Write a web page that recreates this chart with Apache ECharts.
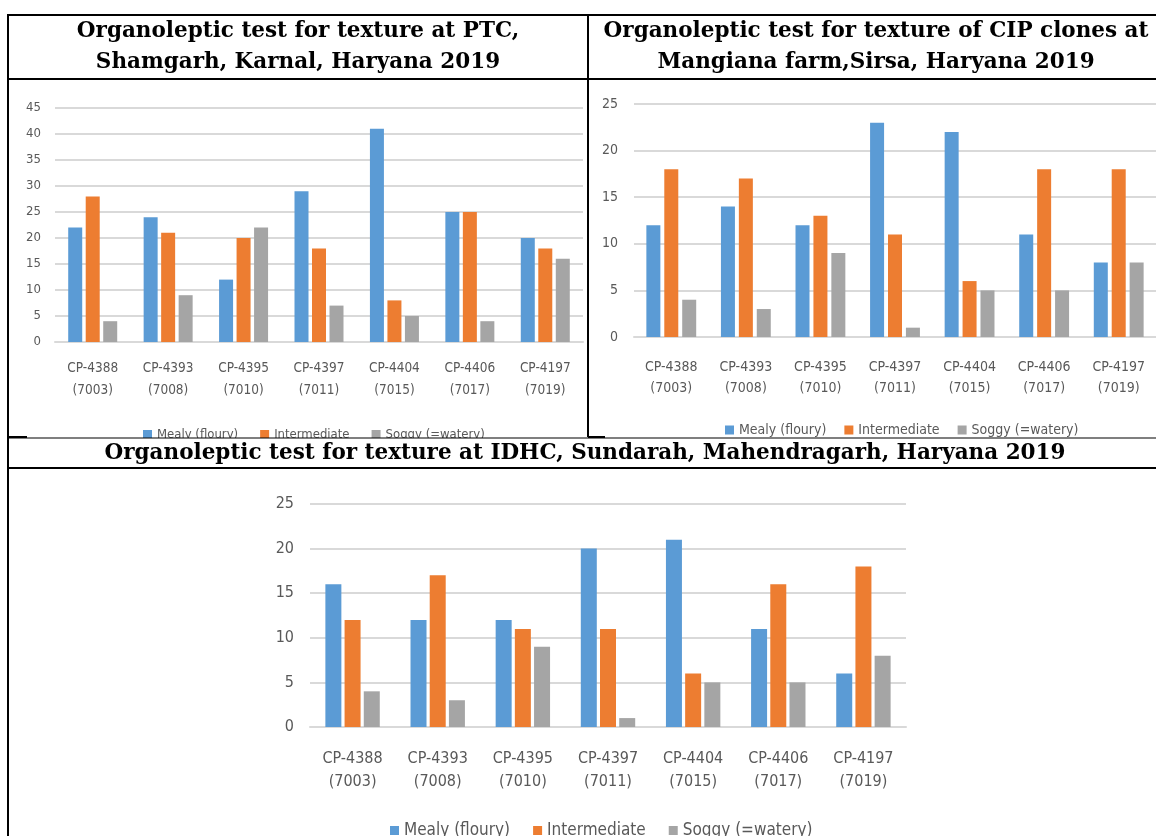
<!DOCTYPE html>
<html>
<head>
<meta charset="utf-8">
<script src="https://cdn.jsdelivr.net/npm/echarts@6/dist/echarts.min.js"></script>
<style>
html,body{margin:0;padding:0;background:#fff;}
#chart{width:1156px;height:836px;}
</style>
</head>
<body>
<div id="chart"></div>
<script>
// ---------- data ----------
const clones = ['CP-4388','CP-4393','CP-4395','CP-4397','CP-4404','CP-4406','CP-4197'];
const codes  = ['7003','7008','7010','7011','7015','7017','7019'];
const seriesNames = ['Mealy (floury)','Intermediate','Soggy (=watery)'];

// PTC, Shamgarh, Karnal
const ptcMealy        = [22,24,12,29,41,25,20];
const ptcIntermediate = [28,21,20,18,8,25,18];
const ptcSoggy        = [4,9,22,7,5,4,16];

// Mangiana farm, Sirsa
const sirsaMealy        = [12,14,12,23,22,11,8];
const sirsaIntermediate = [18,17,13,11,6,18,18];
const sirsaSoggy        = [4,3,9,1,5,5,8];

// IDHC, Sundarah, Mahendragarh
const idhcMealy        = [16,12,12,20,21,11,6];
const idhcIntermediate = [12,17,11,11,6,16,18];
const idhcSoggy        = [4,3,9,1,5,5,8];

const titlePTC   = ['Organoleptic test for texture at PTC,','Shamgarh, Karnal, Haryana 2019'];
const titleSirsa = ['Organoleptic test for texture of CIP clones at','Mangiana farm,Sirsa, Haryana 2019'];
const titleIDHC  = ['Organoleptic test for texture at IDHC, Sundarah, Mahendragarh, Haryana 2019'];

// ---------- styling ----------
const colors = ['#5B9BD5','#ED7D31','#A5A5A5'];
const labelFont = "'Liberation Sans Narrow','DejaVu Sans Condensed','Open Sans',sans-serif";
const titleFont = "'DejaVu Serif','Liberation Serif',serif";
const categories = clones.map((c,i)=>c+'\n('+codes[i]+')');

const chart = echarts.init(document.getElementById('chart'), null, {renderer:'canvas'});

function xAxis(gi, fs, margin, lh){
  return {type:'category', gridIndex:gi, data:categories,
    axisTick:{show:false},
    axisLine:{show:true, lineStyle:{color:'#d9d9d9', width:2}},
    axisLabel:{color:'#595959', fontSize:fs, fontFamily:labelFont, margin:margin, lineHeight:lh, interval:0}};
}
function yAxis(gi, max, fs, margin){
  return {type:'value', gridIndex:gi, min:0, max:max, interval:5,
    axisLine:{show:false}, axisTick:{show:false},
    splitLine:{lineStyle:{color:'#d9d9d9', width:2}},
    axisLabel:{color:'#595959', fontSize:fs, fontFamily:labelFont, margin:margin}};
}
function bars(gi, data, bw, gap){
  return data.map((d,k)=>({
    name: seriesNames[k], type:'bar', xAxisIndex:gi, yAxisIndex:gi,
    data:d, barWidth:bw, barGap:gap, itemStyle:{color:colors[k]}, animation:false
  }));
}
function legend(left, top, fs, gap){
  return {data:seriesNames, left:left, top:top, icon:'rect', itemWidth:9, itemHeight:9,
    itemGap:gap, textStyle:{color:'#595959', fontSize:fs, fontFamily:labelFont}, padding:0};
}

function line(x1,y1,x2,y2,w){
  return {type:'line', z:120, shape:{x1:x1,y1:y1,x2:x2,y2:y2}, style:{stroke:'#000', lineWidth:w}};
}
function text(str, x, y, fs){
  return {type:'text', z:130, x:x, y:y, style:{text:str, fill:'#000', font:'bold '+fs+'px '+titleFont, align:'center', verticalAlign:'middle'}};
}

const option = {
  backgroundColor:'#fff',
  animation:false,
  color: colors,
  grid:[
    {left:55, right:573, top:108, bottom:494},
    {left:634, right:-17, top:104, bottom:499},
    {left:310, right:250, top:504, bottom:109}
  ],
  xAxis:[ xAxis(0,13.5,15,22), xAxis(1,14,20,21), xAxis(2,16,20,23) ],
  yAxis:[ yAxis(0,45,13,14), yAxis(1,25,14,16), yAxis(2,25,16,16) ],
  legend:[ legend(143,428,13,22), legend(725,423,14,18), legend(390,822,17,23) ],
  series:[].concat(
    bars(0,[ptcMealy,ptcIntermediate,ptcSoggy],14,'25%'),
    bars(1,[sirsaMealy,sirsaIntermediate,sirsaSoggy],14,'28%'),
    bars(2,[idhcMealy,idhcIntermediate,idhcSoggy],16,'20%')
  ),
  graphic:[
    // cover clipped legend area between top panels and bottom title
    {type:'rect', z:110, shape:{x:0,y:438,width:1156,height:31}, style:{fill:'#fff'}},
    line(8,15,1156,15,2),
    line(8,14,8,836,2),
    line(8,79,1156,79,2),
    line(588,15,588,437,2),
    line(8,438,1156,438,1.2),
    line(8,437,27,437,2),
    line(588,437,605,437,2),
    line(8,468,1156,468,2),
    text(titlePTC[0],298,31,21.5),
    text(titlePTC[1],298,62,21.5),
    text(titleSirsa[0],876,31,21.5),
    text(titleSirsa[1],876,62,21.5),
    text(titleIDHC[0],585,453,21.5)
  ]
};
chart.setOption(option);
</script>
</body>
</html>
